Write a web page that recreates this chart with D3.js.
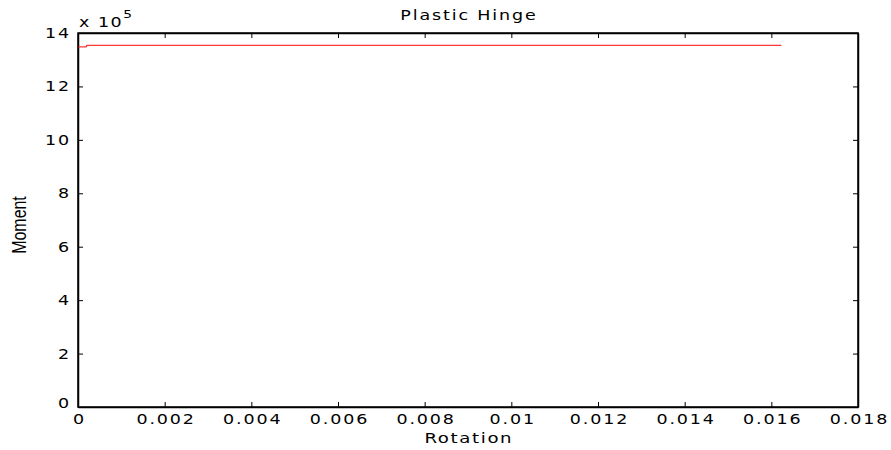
<!DOCTYPE html>
<html>
<head>
<meta charset="utf-8">
<script src="https://cdn.jsdelivr.net/npm/d3@7"></script>
<style>
  body { margin: 0; background: #fff; }
  text { font-family: "DejaVu Sans", sans-serif; }
</style>
</head>
<body>
<div id="chart"></div>
<script>
// hinge curve, rotation vs moment
var rotation = [0, 0.0002, 0.0002, 0.01623];
var moment = [1348000, 1348000, 1354000, 1354000];
var xTicks = [0, 0.002, 0.004, 0.006, 0.008, 0.01, 0.012, 0.014, 0.016, 0.018];
var yTicks = [0, 2, 4, 6, 8, 10, 12, 14];

var width = 891, height = 450;
var margin = {top: 33, right: 33, bottom: 43, left: 78};
var w = width - margin.left - margin.right,
    h = height - margin.top - margin.bottom;
var stretch = 1.25; // the old plot font is wide

var svg = d3.select("#chart").append("svg")
    .attr("width", width)
    .attr("height", height);

var g = svg.append("g")
    .attr("transform", "translate(" + margin.left + "," + margin.top + ")");

var x = d3.scaleLinear().domain([0, 0.018]).range([0, w]);
var y = d3.scaleLinear().domain([0, 14]).range([h, 0]);

function fmt(d) { return d === 0 ? "0" : String(+d.toFixed(3)); }

// bottom axis
var xAxis = g.append("g")
    .attr("transform", "translate(0," + h + ")")
    .call(d3.axisBottom(x).tickValues(xTicks).tickFormat(fmt).tickSizeInner(-5).tickSizeOuter(0).tickPadding(12));
// top ticks
g.append("g")
    .call(d3.axisTop(x).tickValues(xTicks).tickFormat("").tickSizeInner(-5).tickSizeOuter(0));
// left axis
var yAxis = g.append("g")
    .call(d3.axisLeft(y).tickValues(yTicks).tickSizeInner(-5).tickSizeOuter(0).tickPadding(9 / stretch));
// right ticks
g.append("g")
    .attr("transform", "translate(" + w + ",0)")
    .call(d3.axisRight(y).tickValues(yTicks).tickFormat("").tickSizeInner(-5).tickSizeOuter(0));

g.selectAll(".domain").attr("stroke", "#000").attr("stroke-width", 1.5);
g.selectAll(".tick line").attr("stroke", "#000");
g.selectAll(".tick text").attr("fill", "#000").style("font-size", "14px")
    .style("letter-spacing", "1.5px")
    .attr("transform", "scale(" + stretch + ",1)");
xAxis.selectAll(".tick text").attr("dy", "0.35em").attr("dx", "0.75px");
yAxis.selectAll(".tick text").attr("dx", "1.5px");
yAxis.selectAll(".tick text").filter(function(d) { return d === 0; }).attr("dy", "0.05em");

// box outline
g.append("rect")
    .attr("width", w).attr("height", h)
    .attr("fill", "none").attr("stroke", "#000").attr("stroke-width", 1.5);

// data line
var pts = rotation.map(function(r, i) { return [r, moment[i] / 1e5]; });
g.append("path")
    .datum(pts)
    .attr("fill", "none")
    .attr("stroke", "#f00")
    .attr("stroke-width", 1)
    .attr("d", d3.line().x(function(d) { return x(d[0]); }).y(function(d) { return y(d[1]); }));

function label(cx, cy, size, spacing, anchor) {
  return svg.append("text")
      .attr("transform", "translate(" + cx + "," + cy + ") scale(" + stretch + ",1)")
      .attr("text-anchor", anchor)
      .attr("dx", anchor === "middle" ? spacing / 2 : 0)
      .style("font-size", size + "px")
      .style("letter-spacing", spacing + "px");
}

// exponent label
var ex = label(margin.left + 1, 27, 14, 1.2, "start");
ex.append("tspan").text("x 10");
ex.append("tspan").attr("dy", -9).style("font-size", "11px").text("5");

// title
label(margin.left + w / 2, 20, 14, 1.5, "middle").text("Plastic Hinge");

// x label
label(margin.left + w / 2, 443, 14.5, 1.3, "middle").text("Rotation");

// y label
svg.append("text")
    .attr("transform", "translate(26," + (margin.top + h / 2 + 5) + ") rotate(-90) scale(0.76,1)")
    .attr("text-anchor", "middle")
    .style("font-family", "'Liberation Sans', Arial, sans-serif")
    .style("font-size", "21px")
    .text("Moment");
</script>
</body>
</html>
